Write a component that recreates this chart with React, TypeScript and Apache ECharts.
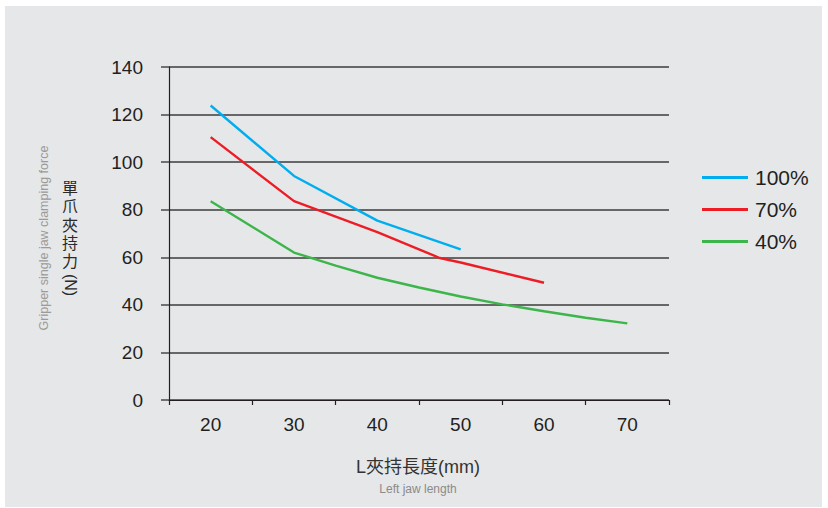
import React, { useEffect, useRef } from "react";
import * as echarts from "echarts";

const categories = ["20", "30", "40", "50", "60", "70"];
const seriesNames = ["100%", "70%", "40%"];
const blueData: [number, number][] = [[20, 123.8], [30, 94.2], [40, 75.4], [50, 63.3]];
const redData: [number, number][] = [[20, 110.5], [30, 83.6], [40, 70.6], [47.5, 59.7], [50, 57.8], [60, 49.3]];
const greenData: [number, number][] = [
  [20, 83.6], [30, 62.0], [35, 56.5], [40, 51.4], [45, 47.3], [50, 43.5], [55, 40.2], [60, 37.3], [65, 34.6], [70, 32.2],
];
const colors = ["#00aeef", "#ee1c25", "#3cb64a"];

const FONT = "'Liberation Sans', Arial, 'Noto Sans CJK TC', sans-serif";
const CJK = "'Liberation Sans', 'Noto Sans CJK TC', sans-serif";

export default function App() {
  const ref = useRef<HTMLDivElement>(null);
  useEffect(() => {
    document.body.style.margin = "0";
    const chart = echarts.init(ref.current!, null, { renderer: "svg" });
    const datasets = [blueData, redData, greenData];
    chart.setOption({
      animation: false,
      backgroundColor: "#ffffff",
      grid: { left: 169, right: 159, top: 67, bottom: 108, containLabel: false },
      legend: {
        orient: "vertical",
        left: 697,
        top: 162,
        icon: "rect",
        itemWidth: 46,
        itemHeight: 3,
        itemGap: 11,
        data: seriesNames,
        textStyle: { fontSize: 21, color: "#231f20", fontFamily: FONT, padding: [0, 0, 0, 2] },
      },
      xAxis: [
        {
          type: "category",
          data: categories,
          boundaryGap: true,
          axisLine: { show: true, lineStyle: { color: "#231f20", width: 1.2 } },
          axisTick: { show: true, length: 5, lineStyle: { color: "#231f20", width: 1.2 } },
          axisLabel: { fontSize: 19, color: "#231f20", fontFamily: FONT, margin: 15 },
          splitLine: { show: false },
        },
        { type: "value", min: 15, max: 75, show: false },
      ],
      yAxis: {
        type: "value",
        min: 0,
        max: 140,
        interval: 20,
        axisLine: { show: true, lineStyle: { color: "#231f20", width: 1.2 } },
        axisTick: { show: true, length: 8, lineStyle: { color: "#4a4a4a", width: 1.5 } },
        axisLabel: { fontSize: 19, color: "#231f20", fontFamily: FONT, margin: 26 },
        splitLine: { show: true, lineStyle: { color: "#3c3c3c", width: 1.5 } },
      },
      series: seriesNames.map((n, i) => ({
        name: n,
        type: "line",
        xAxisIndex: 1,
        data: datasets[i],
        showSymbol: false,
        symbol: "none",
        color: colors[i],
        lineStyle: { width: 2.4, color: colors[i] },
      })),
      graphic: [
        { type: "rect", z: -10, shape: { x: 5, y: 6, width: 817, height: 501 }, style: { fill: "#e6e7e9" } },
        {
          type: "text",
          x: 44,
          y: 238,
          rotation: Math.PI / 2,
          style: {
            text: "Gripper single jaw clamping force",
            fontSize: 12.5,
            fill: "#9a9a9a",
            fontFamily: FONT,
            align: "center",
            verticalAlign: "middle",
          },
        },
        {
          type: "text",
          x: 70,
          y: 179,
          style: {
            text: "單\n爪\n夾\n持\n力",
            fontSize: 16,
            lineHeight: 18.4,
            fill: "#2a2a2a",
            fontFamily: CJK,
            align: "center",
            verticalAlign: "top",
          },
        },
        {
          type: "text",
          x: 70,
          y: 285,
          rotation: -Math.PI / 2,
          style: {
            text: "(N)",
            fontSize: 16,
            fill: "#2a2a2a",
            fontFamily: CJK,
            align: "center",
            verticalAlign: "middle",
          },
        },
        {
          type: "text",
          x: 418,
          y: 467,
          style: {
            text: "L夾持長度(mm)",
            fontSize: 18,
            fill: "#333333",
            fontFamily: CJK,
            align: "center",
            verticalAlign: "middle",
          },
        },
        {
          type: "text",
          x: 418,
          y: 489,
          style: {
            text: "Left jaw length",
            fontSize: 12,
            fill: "#8a8a8a",
            fontFamily: FONT,
            align: "center",
            verticalAlign: "middle",
          },
        },
      ],
    });
    return () => chart.dispose();
  }, []);
  return <div ref={ref} style={{ width: 828, height: 508 }} />;
}
